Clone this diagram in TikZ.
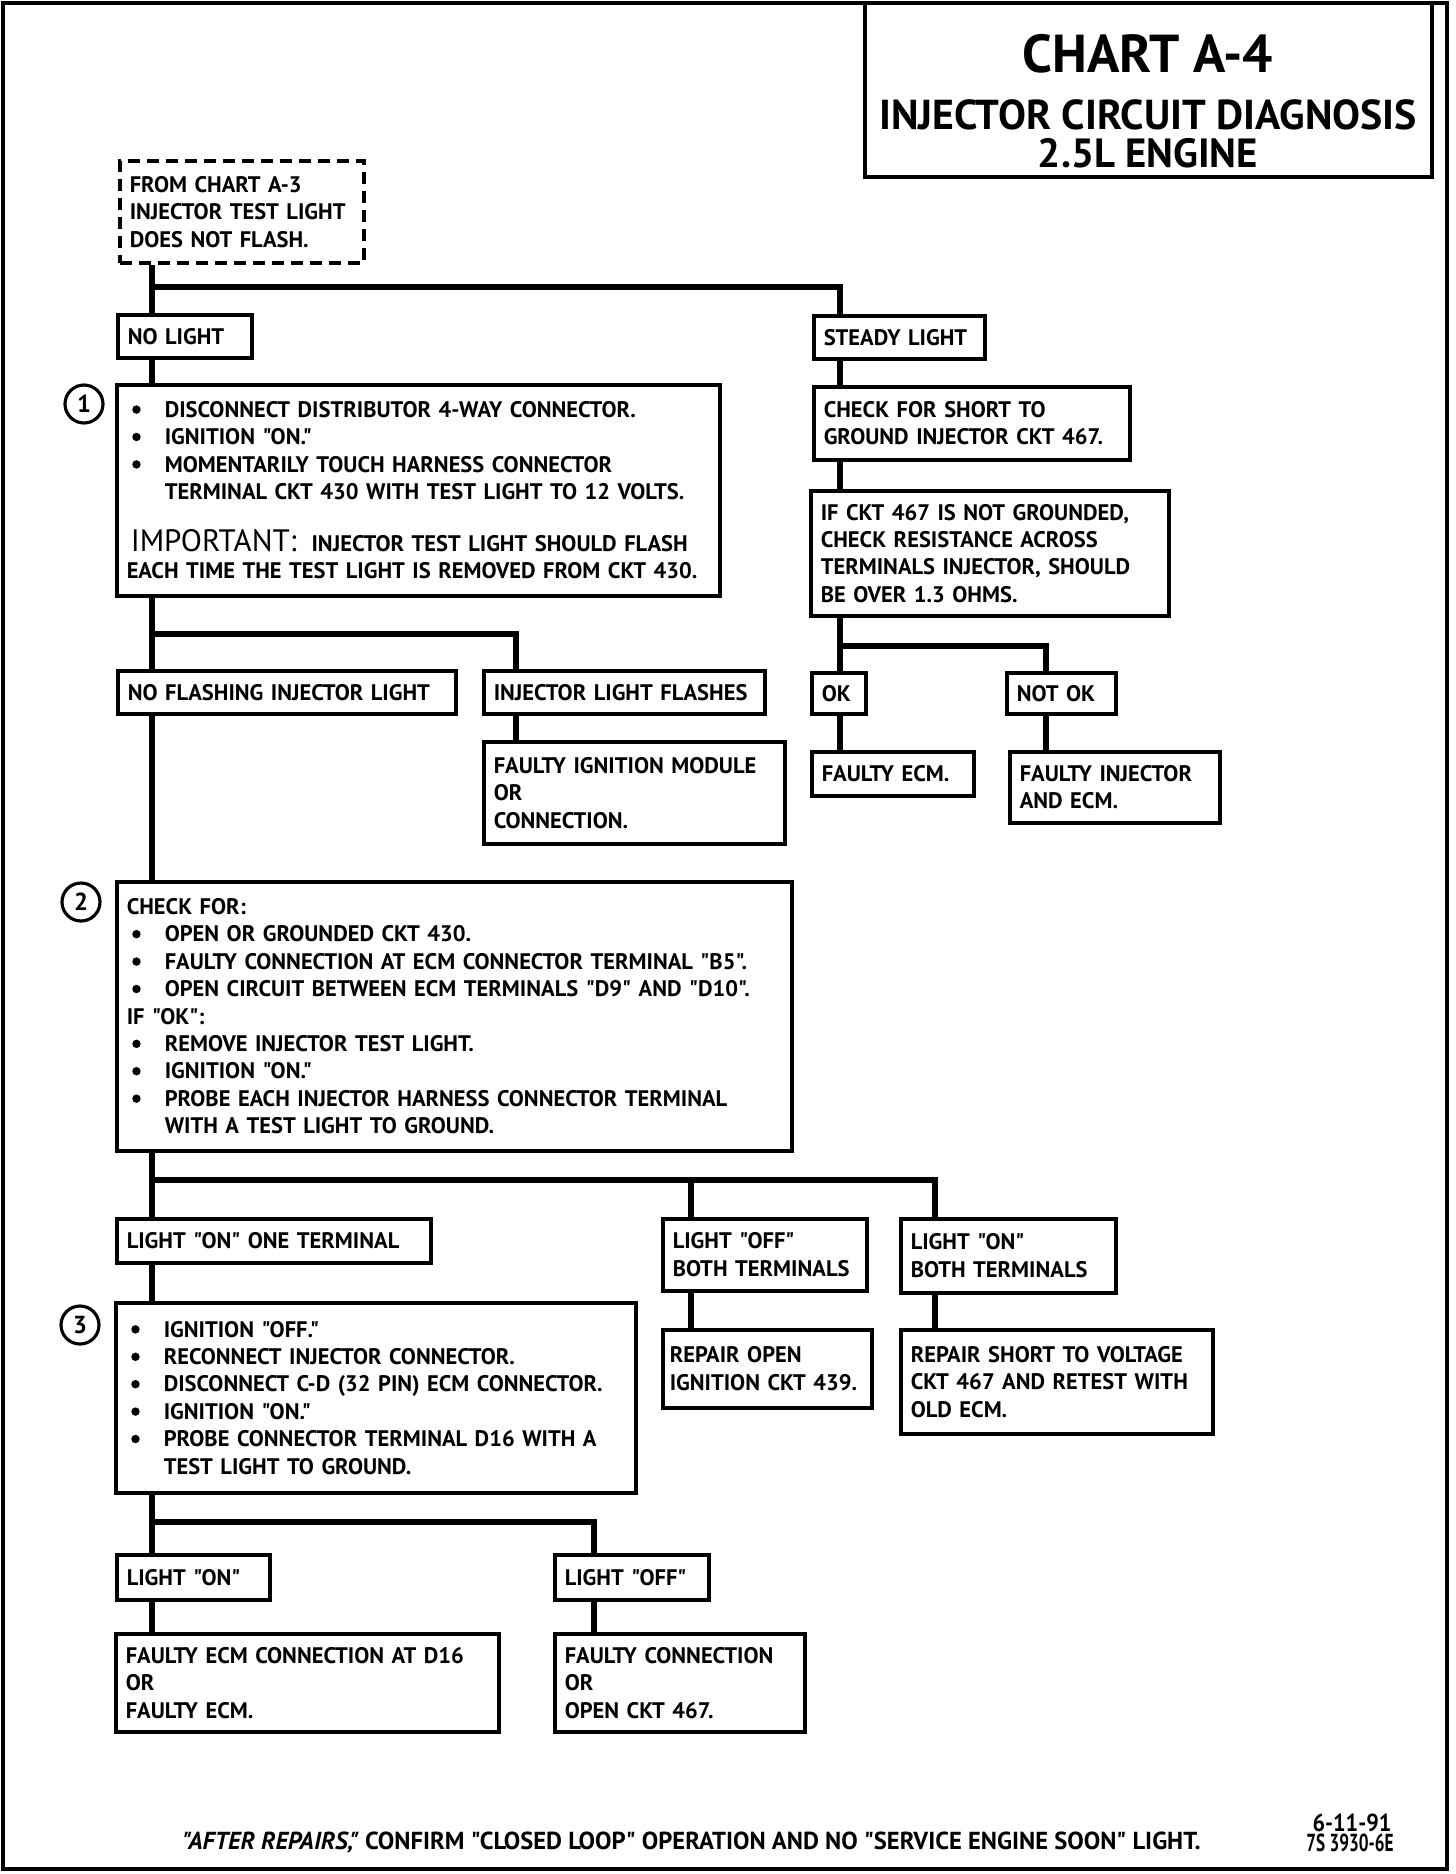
\documentclass[tikz,border=0pt]{standalone}
\usepackage{fontspec}
\usepackage{graphicx}
\setmainfont{PT Sans}[Ligatures=TeXOff]
\usetikzlibrary{positioning,calc}

\newcommand{\bodyfont}{\fontsize{6.4}{7.8}\selectfont\bfseries}
\newcommand{\bul}{\makebox[3.8mm][l]{\hspace{0.55mm}\tikz[baseline={(0pt,-2.2pt)}]\fill (0pt,0pt) circle (1.2pt);}}
\newcommand{\ind}{\hspace*{3.8mm}}

\tikzset{
  box/.style={draw, line width=1pt, anchor=north west, align=left, inner xsep=1mm, inner ysep=0pt, font=\bodyfont},
  dashbox/.style={box, dash pattern=on 1.2mm off 0.7mm},
  wire/.style={line width=1.7pt, line join=miter},
  stepnum/.style={draw, circle, line width=0.9pt, minimum size=3.8mm, inner sep=0pt, font=\fontsize{7}{7}\selectfont\bfseries},
  frame/.style={line width=1.1pt},
  footfont/.style={inner sep=0pt, font=\fontsize{7}{7.8}\selectfont\bfseries}
}

\begin{document}
\begin{tikzpicture}[x=0.1mm,y=-0.1mm]
\useasboundingbox (0,0) rectangle (1456,1874);
\draw[frame] (3,3) rectangle (1447,1869);

% title block
\draw[frame] (865,3) rectangle (1432,177);
\node[font=\fontsize{15.2}{15.2}\selectfont\bfseries] (ttl) at (1148,54) {CHART A-4};
\node[font=\fontsize{11.9}{11.9}\selectfont\bfseries] (sub) at (1148,115) {INJECTOR CIRCUIT DIAGNOSIS};
\node[font=\fontsize{11.6}{11.6}\selectfont\bfseries] (eng) at (1148,153) {2.5L ENGINE};

% left column
\node[dashbox, text width=22.4mm, minimum height=10.2mm] (start) at (118,159) {FROM CHART A-3\\INJECTOR TEST LIGHT\\DOES NOT FLASH.};
\node[box, text width=11.4mm, minimum height=4.3mm] (nolight) at (116,313) {NO LIGHT};
\node[box, text width=58.3mm, minimum height=21.1mm] (step1) at (115,383) {\bul DISCONNECT DISTRIBUTOR 4-WAY CONNECTOR.\\
\bul IGNITION "ON."\\
\bul MOMENTARILY TOUCH HARNESS CONNECTOR\\
\ind TERMINAL CKT 430 WITH TEST LIGHT TO 12 VOLTS.\\[7pt]
{\fontsize{8.8}{7.8}\selectfont\mdseries\hspace*{0.4mm}IMPORTANT:}\ \ INJECTOR TEST LIGHT SHOULD FLASH\\
EACH TIME THE TEST LIGHT IS REMOVED FROM CKT 430.};
\node[stepnum] (n1) at (84,404) {1};

\node[box, text width=31.8mm, minimum height=4.3mm] (noflash) at (116,669) {NO FLASHING INJECTOR LIGHT};
\node[box, text width=26.1mm, minimum height=4.3mm] (flashes) at (482,669) {INJECTOR LIGHT FLASHES};
\node[box, text width=28.1mm, minimum height=10.2mm] (ignmod) at (482,740) {FAULTY IGNITION MODULE\\OR\\CONNECTION.};

\node[box, text width=65.5mm, minimum height=26.9mm] (step2) at (115,880) {CHECK FOR:\\
\bul OPEN OR GROUNDED CKT 430.\\
\bul FAULTY CONNECTION AT ECM CONNECTOR TERMINAL "B5".\\
\bul OPEN CIRCUIT BETWEEN ECM TERMINALS "D9" AND "D10".\\
IF "OK":\\
\bul REMOVE INJECTOR TEST LIGHT.\\
\bul IGNITION "ON."\\
\bul PROBE EACH INJECTOR HARNESS CONNECTOR TERMINAL\\
\ind WITH A TEST LIGHT TO GROUND.};
\node[stepnum] (n2) at (81,902) {2};

\node[box, text width=29.4mm, minimum height=4.4mm] (oneterm) at (115,1217) {LIGHT "ON" ONE TERMINAL};
\node[box, text width=18.4mm, minimum height=7.2mm] (offboth) at (661,1217) {LIGHT "OFF"\\BOTH TERMINALS};
\node[box, text width=19.5mm, minimum height=7.4mm] (onboth) at (899,1217) {LIGHT "ON"\\BOTH TERMINALS};
\node[box, inner xsep=0.7mm, text width=19.5mm, minimum height=7.8mm] (repopen) at (661,1328) {REPAIR OPEN\\IGNITION CKT 439.};
\node[box, text width=29.2mm, minimum height=10.4mm] (repshort) at (899,1328) {REPAIR SHORT TO VOLTAGE\\CKT 467 AND RETEST WITH\\OLD ECM.};

\node[box, text width=50mm, minimum height=19mm] (step3) at (114,1301) {\bul IGNITION "OFF."\\
\bul RECONNECT INJECTOR CONNECTOR.\\
\bul DISCONNECT C-D (32 PIN) ECM CONNECTOR.\\
\bul IGNITION "ON."\\
\bul PROBE CONNECTOR TERMINAL D16 WITH A\\
\ind TEST LIGHT TO GROUND.};
\node[stepnum] (n3) at (80,1325) {3};

\node[box, text width=13.3mm, minimum height=4.5mm] (lighton) at (115,1553) {LIGHT "ON"};
\node[box, text width=13.4mm, minimum height=4.5mm] (lightoff) at (553,1553) {LIGHT "OFF"};
\node[box, text width=36.3mm, minimum height=9.8mm] (ecmconn) at (114,1632) {FAULTY ECM CONNECTION AT D16\\OR\\FAULTY ECM.};
\node[box, text width=23mm, minimum height=9.8mm] (faultconn) at (553,1632) {FAULTY CONNECTION\\OR\\OPEN CKT 467.};

% right column
\node[box, text width=15.1mm, minimum height=4.3mm] (steady) at (812,314) {STEADY LIGHT};
\node[box, text width=29.6mm, minimum height=7.3mm] (shortchk) at (812,385) {CHECK FOR SHORT TO\\GROUND INJECTOR CKT 467.};
\node[box, text width=33.8mm, minimum height=12.5mm] (ohms) at (809,489) {IF CKT 467 IS NOT GROUNDED,\\CHECK RESISTANCE ACROSS\\TERMINALS INJECTOR, SHOULD\\BE OVER 1.3 OHMS.};
\node[box, text width=3.4mm, minimum height=4.1mm] (ok) at (810,671) {OK};
\node[box, text width=8.9mm, minimum height=4.1mm] (notok) at (1005,671) {NOT OK};
\node[box, text width=14.2mm, minimum height=4.4mm] (ecm) at (810,750) {FAULTY ECM.};
\node[box, text width=19mm, minimum height=7.1mm] (injecm) at (1008,750) {FAULTY INJECTOR\\AND ECM.};

% junctions
\coordinate (j1) at (152,287);
\coordinate (j1r) at (840,287);
\coordinate (j2) at (152,634);
\coordinate (j2r) at (516,634);
\coordinate (j3) at (840,646);
\coordinate (j3r) at (1046,646);
\coordinate (j4) at (152,1180);
\coordinate (j4m) at (691,1180);
\coordinate (j4r) at (935,1180);
\coordinate (j5) at (152,1522);
\coordinate (j5r) at (594,1522);

\draw[wire] (start.south -| j1) -- (j1) -- (j1r) -- (steady.north -| j1r);
\draw[wire] (j1) -- (nolight.north -| j1);
\draw[wire] (nolight.south -| j1) -- (step1.north -| j1);
\draw[wire] (steady.south -| j1r) -- (shortchk.north -| j1r);
\draw[wire] (shortchk.south -| j1r) -- (ohms.north -| j1r);

\draw[wire] (step1.south -| j2) -- (j2) -- (j2r) -- (flashes.north -| j2r);
\draw[wire] (j2) -- (noflash.north -| j2);
\draw[wire] (flashes.south -| j2r) -- (ignmod.north -| j2r);
\draw[wire] (noflash.south -| j2) -- (step2.north -| j2);

\draw[wire] (ohms.south -| j3) -- (j3) -- (j3r) -- (notok.north -| j3r);
\draw[wire] (j3) -- (ok.north -| j3);
\draw[wire] (ok.south -| j3) -- (ecm.north -| j3);
\draw[wire] (notok.south -| j3r) -- (injecm.north -| j3r);

\draw[wire] (step2.south -| j4) -- (j4) -- (j4r) -- (onboth.north -| j4r);
\draw[wire] (j4) -- (oneterm.north -| j4);
\draw[wire] (j4m) -- (offboth.north -| j4m);
\draw[wire] (offboth.south -| j4m) -- (repopen.north -| j4m);
\draw[wire] (onboth.south -| j4r) -- (repshort.north -| j4r);
\draw[wire] (oneterm.south -| j4) -- (step3.north -| j4);

\draw[wire] (step3.south -| j5) -- (j5) -- (j5r) -- (lightoff.north -| j5r);
\draw[wire] (j5) -- (lighton.north -| j5);
\draw[wire] (lighton.south -| j5) -- (ecmconn.north -| j5);
\draw[wire] (lightoff.south -| j5r) -- (faultconn.north -| j5r);

% footer
\node[footfont, anchor=west] (note) at (182,1843) {\textit{"AFTER REPAIRS,"} CONFIRM "CLOSED LOOP" OPERATION AND NO "SERVICE ENGINE SOON" LIGHT.};
\node[footfont] (date) at (1352,1823) {\scalebox{0.9}[1]{6-11-91}};
\node[footfont] (code) at (1350,1843) {\scalebox{0.7}[1]{7S 3930-6E}};
\end{tikzpicture}
\end{document}
